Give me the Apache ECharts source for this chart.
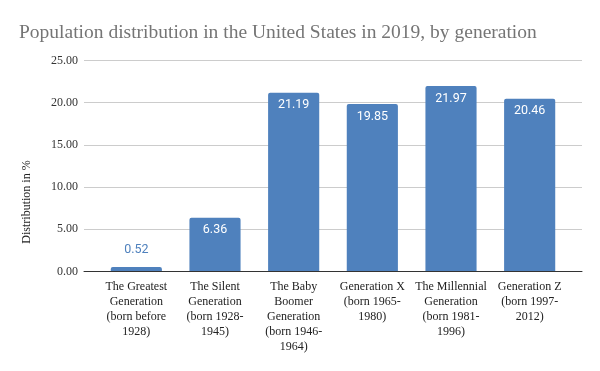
<!DOCTYPE html>
<html><head><meta charset="utf-8">
<script src="https://cdn.jsdelivr.net/npm/echarts@6/dist/echarts.min.js"></script>
<style>html,body{margin:0;padding:0;background:#fff}#c{width:600px;height:371px}</style>
</head><body><div id="c"></div>
<script>
const titleText = "Population distribution in the United States in 2019, by generation";
const categories = [
  "The Greatest\nGeneration\n(born before\n1928)",
  "The Silent\nGeneration\n(born 1928-\n1945)",
  "The Baby\nBoomer\nGeneration\n(born 1946-\n1964)",
  "Generation X\n(born 1965-\n1980)",
  "The Millennial\nGeneration\n(born 1981-\n1996)",
  "Generation Z\n(born 1997-\n2012)"
];
const values = [0.52, 6.36, 21.19, 19.85, 21.97, 20.46];
const yTicks = [0, 5, 10, 15, 20, 25];
const yName = "Distribution in %";

const chart = echarts.init(document.getElementById('c'));
const blue = '#4f81bd';
chart.setOption({
  animation: false,
  title: {
    text: titleText, left: 14, top: 18,
    textStyle: {fontFamily: 'Liberation Serif', fontSize: 19.5, fontWeight: 'normal', color: '#757575'}
  },
  graphic: [{
    type: 'text', x: 27, y: 202, rotation: Math.PI / 2,
    style: {text: yName, font: '12px "Liberation Serif"', fill: '#222', align: 'center', verticalAlign: 'middle'}
  }],
  grid: [
    {left: 84, right: 18, top: 60.5, bottom: 99.5},
    {left: 97, right: 31, top: 60.5, bottom: 99.5}
  ],
  xAxis: [
    {gridIndex: 0, type: 'value', min: 0, max: 1, axisLabel: {show: false}, axisTick: {show: false},
     splitLine: {show: false}, axisLine: {show: true, lineStyle: {color: '#333', width: 1}}, z: 5},
    {gridIndex: 1, type: 'category', data: categories, axisLine: {show: false}, axisTick: {show: false},
     axisLabel: {interval: 0, margin: 8, fontFamily: 'Liberation Serif', fontSize: 12, lineHeight: 15, color: '#222'}}
  ],
  yAxis: [
    {gridIndex: 0, type: 'value', min: yTicks[0], max: yTicks[yTicks.length-1], interval: 5,
     axisLine: {show: false}, axisTick: {show: false},
     splitLine: {lineStyle: {color: '#cccccc', width: 1}},
     axisLabel: {formatter: v => v.toFixed(2), margin: 6, fontFamily: 'Liberation Serif', fontSize: 12, color: '#333'}},
    {gridIndex: 1, type: 'value', min: yTicks[0], max: yTicks[yTicks.length-1], show: false}
  ],
  series: [{
    type: 'bar', xAxisIndex: 1, yAxisIndex: 1, data: values.map(v => ({
      value: v,
      label: v < 3 ? {position: 'top', distance: 11, color: blue} : {position: 'insideTop', distance: 6, color: '#fff'}
    })),
    barWidth: '65%',
    itemStyle: {color: blue, borderRadius: [2, 2, 0, 0]},
    label: {show: true, formatter: p => p.value.toFixed(2), fontFamily: 'Roboto', fontSize: 12.5}
  }]
});
</script></body></html>
